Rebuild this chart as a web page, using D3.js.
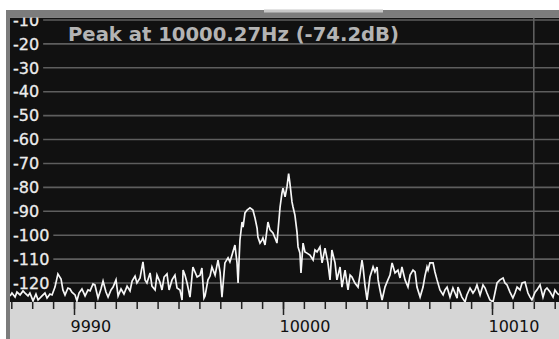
<!DOCTYPE html>
<html><head><meta charset="utf-8">
<script src="https://cdn.jsdelivr.net/npm/d3@7"></script>
<style>html,body{margin:0;padding:0;background:#fff;overflow:hidden}</style>
</head><body>
<svg id="c" width="559" height="339"></svg>
<script>
// ---- data (Hz, dB) ----
const freqs = [9986.94,9987.03,9987.18,9987.27,9987.42,9987.56,9987.66,9987.80,9987.89,9988.04,
9988.18,9988.28,9988.47,9988.61,9988.71,9988.85,9988.95,9989.09,9989.23,9989.38,
9989.47,9989.57,9989.71,9989.81,9989.90,9990.05,9990.14,9990.24,9990.38,9990.53,
9990.67,9990.77,9990.91,9991.00,9991.15,9991.29,9991.39,9991.53,9991.63,9991.77,
9991.87,9992.01,9992.11,9992.25,9992.39,9992.54,9992.68,9992.78,9992.92,9993.01,
9993.16,9993.30,9993.40,9993.49,9993.64,9993.73,9993.88,9993.97,9994.11,9994.21,
9994.31,9994.45,9994.55,9994.69,9994.83,9994.93,9995.07,9995.17,9995.22,9995.31,
9995.41,9995.55,9995.69,9995.79,9995.89,9996.03,9996.12,9996.22,9996.27,9996.41,
9996.51,9996.60,9996.75,9996.89,9996.99,9997.08,9997.22,9997.37,9997.46,9997.56,
9997.70,9997.80,9997.85,9997.94,9998.04,9998.09,9998.18,9998.28,9998.42,9998.56,
9998.66,9998.76,9998.80,9998.90,9999.00,9999.04,9999.14,9999.28,9999.38,9999.52,
9999.62,9999.71,9999.86,9999.95,10000.00,10000.10,10000.19,10000.27,10000.33,10000.43,
10000.48,10000.57,10000.67,10000.72,10000.81,10000.86,10000.96,10001.05,10001.15,10001.29,
10001.44,10001.53,10001.63,10001.77,10001.87,10002.01,10002.15,10002.25,10002.34,10002.49,
10002.58,10002.73,10002.82,10002.97,10003.11,10003.21,10003.30,10003.44,10003.59,10003.68,
10003.78,10003.83,10003.92,10004.02,10004.16,10004.31,10004.40,10004.50,10004.55,10004.64,
10004.74,10004.88,10005.02,10005.12,10005.22,10005.36,10005.50,10005.60,10005.69,10005.84,
10005.98,10006.08,10006.22,10006.32,10006.41,10006.56,10006.70,10006.79,10006.89,10006.94,
10007.03,10007.18,10007.27,10007.37,10007.51,10007.66,10007.75,10007.85,10007.99,10008.13,
10008.23,10008.33,10008.37,10008.47,10008.56,10008.71,10008.80,10008.95,10009.09,10009.19,
10009.28,10009.43,10009.57,10009.67,10009.76,10009.90,10010.05,10010.14,10010.24,10010.38,
10010.53,10010.62,10010.72,10010.86,10011.00,10011.10,10011.20,10011.34,10011.44,10011.58,
10011.72,10011.82,10011.91,10012.06,10012.15,10012.30,10012.44,10012.54,10012.63,10012.78,
10012.92,10013.01,10013.11,10013.21];
const levels = [-125.4,-124.2,-125.9,-123.8,-125.0,-123.3,-124.2,-125.4,-124.2,-127.5,
-124.6,-127.1,-125.4,-124.2,-126.3,-124.6,-125.0,-121.7,-116.2,-118.3,
-122.9,-125.0,-122.1,-122.5,-123.8,-125.0,-127.5,-124.2,-122.5,-125.4,
-122.9,-123.3,-120.4,-120.8,-126.3,-122.5,-119.2,-123.8,-125.9,-122.9,
-121.7,-118.7,-125.4,-122.5,-124.6,-121.3,-123.3,-119.2,-117.1,-120.0,
-117.9,-111.2,-118.7,-120.0,-115.8,-121.3,-122.9,-116.7,-119.6,-122.9,
-117.5,-116.2,-122.9,-118.7,-116.7,-122.1,-122.9,-127.1,-114.6,-116.7,
-120.0,-125.9,-113.3,-115.4,-117.5,-116.7,-113.7,-126.3,-125.4,-118.7,
-117.1,-113.3,-116.7,-110.4,-115.4,-125.9,-111.6,-109.5,-111.2,-108.3,
-104.1,-111.6,-120.0,-102.0,-94.5,-96.6,-90.7,-89.5,-88.6,-89.5,
-92.8,-97.0,-100.8,-103.3,-102.0,-101.2,-104.1,-94.5,-97.8,-99.1,
-101.2,-103.3,-88.2,-82.4,-80.3,-84.0,-79.8,-74.2,-78.2,-86.1,
-88.2,-91.6,-98.7,-104.9,-107.5,-115.8,-103.3,-107.0,-107.5,-108.3,
-110.4,-106.2,-107.0,-104.9,-111.6,-105.4,-111.6,-118.7,-106.2,-111.6,
-118.7,-113.3,-121.7,-114.6,-122.9,-116.7,-117.5,-120.0,-121.7,-116.7,
-110.4,-113.3,-120.8,-127.1,-117.5,-113.3,-115.4,-113.3,-118.7,-122.9,
-127.1,-121.7,-118.7,-116.7,-111.6,-115.8,-114.6,-117.9,-113.3,-118.7,
-121.7,-116.7,-114.6,-115.4,-121.7,-125.9,-121.7,-117.1,-113.3,-114.6,
-111.6,-111.6,-115.4,-118.7,-122.9,-125.0,-122.9,-121.7,-125.9,-122.1,
-124.2,-126.3,-121.7,-123.8,-125.9,-127.9,-125.0,-122.1,-124.2,-122.9,
-120.8,-125.0,-120.8,-122.1,-124.2,-127.1,-127.9,-124.2,-120.0,-118.7,
-117.9,-120.0,-120.8,-123.8,-126.3,-124.2,-121.7,-122.9,-120.0,-119.6,
-124.2,-125.9,-127.1,-123.8,-122.9,-120.8,-125.9,-122.9,-122.1,-123.8,
-125.9,-122.9,-124.2,-125.0];
const yTickValues = [-10,-20,-30,-40,-50,-60,-70,-80,-90,-100,-110,-120];
const xMajorTicks = [9990,10000,10010];
const xMinorStep = 1;
const markerFreq = 10012;
const peakFreq = 10000.27, peakLevel = -74.2;

// ---- layout ----
const svg = d3.select("#c");
const P = {left:10, top:17.5, right:559, bottom:302};
const x = d3.scaleLinear().domain([9990,10010]).range([74,492]);
const y = d3.scaleLinear().domain([-10,-120]).range([20,283]);
const font = "'DejaVu Sans', sans-serif";

svg.append("rect").attr("x",0).attr("y",0).attr("width",559).attr("height",339).attr("fill","#fff");
svg.append("rect").attr("x",P.left).attr("y",P.top).attr("width",P.right-P.left).attr("height",P.bottom-P.top).attr("fill","#111");
svg.append("rect").attr("x",P.left).attr("y",P.bottom).attr("width",P.right-P.left).attr("height",339-P.bottom).attr("fill","#d6d6d6");

// y labels + grid
const gy = svg.append("g");
yTickValues.forEach(v=>{
  const t = gy.append("text").attr("x",13).attr("y",y(v)).attr("dy","0.36em")
    .attr("font-family",font).attr("font-size",16).attr("fill","#ececec")
    .attr("stroke","#ececec").attr("stroke-width",0.3).text(v);
  const w = t.node().getComputedTextLength();
  gy.append("line").attr("x1",13+w+4).attr("x2",P.right).attr("y1",y(v)).attr("y2",y(v))
    .attr("stroke","#5e5e5e").attr("stroke-width",1.6);
});
// vertical marker
svg.append("line").attr("x1",x(markerFreq)).attr("x2",x(markerFreq)).attr("y1",P.top).attr("y2",P.bottom)
  .attr("stroke","#5e5e5e").attr("stroke-width",1.6);

// title
svg.append("text").attr("x",68).attr("y",40.5).attr("font-family",font).attr("font-weight","bold")
  .attr("font-size",19.6).attr("fill","#b4b4b4").text(`Peak at ${peakFreq}Hz (${peakLevel}dB)`);

// trace
svg.append("clipPath").attr("id","clip").append("rect")
  .attr("x",P.left).attr("y",P.top).attr("width",P.right-P.left).attr("height",P.bottom-P.top);
const line = d3.line().x((d,i)=>x(freqs[i])).y((d)=>y(d));
svg.append("path").datum(levels).attr("clip-path","url(#clip)").attr("d",line)
  .attr("fill","none").attr("stroke","#f6f6f6").attr("stroke-width",1.7).attr("stroke-linejoin","miter");

// x axis
const f0 = x.invert(P.left), f1 = x.invert(P.right);
const minor = d3.range(Math.ceil(f0), Math.floor(f1)+1, xMinorStep);
const gMinor = svg.append("g").attr("transform",`translate(0,${P.bottom})`)
  .call(d3.axisBottom(x).tickValues(minor).tickSize(7).tickFormat(""));
gMinor.select(".domain").remove();
gMinor.selectAll("line").attr("stroke","#222").attr("stroke-width",1.5);
const gMajor = svg.append("g").attr("transform",`translate(0,${P.bottom})`)
  .call(d3.axisBottom(x).tickValues(xMajorTicks).tickSize(13).tickFormat(d3.format("d")));
gMajor.select(".domain").remove();
gMajor.selectAll("line").attr("stroke","#222").attr("stroke-width",1.5);
gMajor.selectAll("text").attr("text-anchor","start").attr("x",-4).attr("y",30).attr("dy",0)
  .attr("font-family",font).attr("font-size",16).attr("fill","#111");

// frame
svg.append("rect").attr("x",6).attr("y",10).attr("width",553).attr("height",P.top-10).attr("fill","#7c7c7c");
svg.append("rect").attr("x",6).attr("y",10).attr("width",4).attr("height",329).attr("fill","#7c7c7c");
svg.append("rect").attr("x",264).attr("y",9.5).attr("width",119).attr("height",3).attr("fill","#c8c8c8");
</script>
</body></html>
